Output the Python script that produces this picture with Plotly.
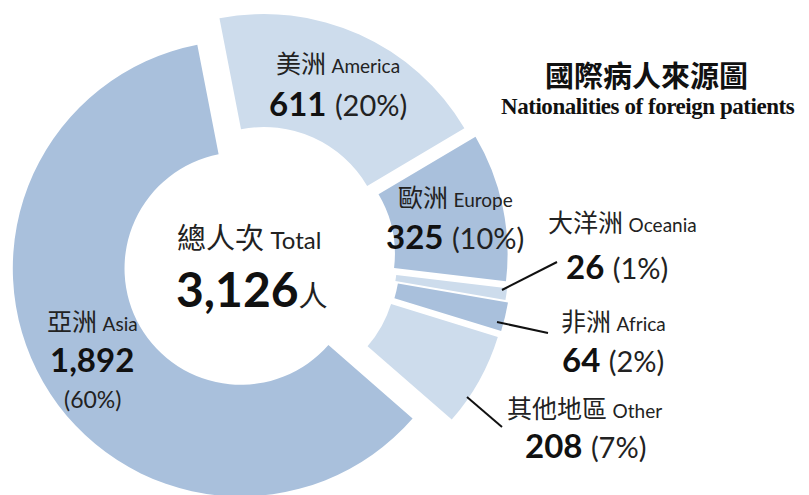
import math
import plotly.graph_objects as go

# ---- data ----
names_zh = ["美洲", "歐洲", "大洋洲", "非洲", "其他地區", "亞洲"]
names_en = ["America", "Europe", "Oceania", "Africa", "Other", "Asia"]
values = [611, 325, 26, 64, 208, 1892]
pct_labels = ["20%", "10%", "1%", "2%", "7%", "60%"]
colors = ["#cddcec", "#a9c0dc", "#cddcec", "#a9c0dc", "#cddcec", "#a9c0dc"]

# ---- geometry (pixels of the 809x495 picture) ----
pull_px = [12, 19, 22, 25, 24, 21]          # explosion of each slice
radius_px = [233, 230, 228, 228, 228, 228]  # outer radius of each slice
hole_frac = [0.515, 0.51, 0.51, 0.51, 0.51, 0.51]
W, H = 809, 495
OFF = 8            # page body margin in the browser
CX, CY = 259, 258  # donut centre (screen pixels)
START = -11        # degrees, clockwise from 12 o'clock

total = sum(values)

fig = go.Figure()
cum = 0.0
for i, v in enumerate(values):
    mid = math.radians(START + 360.0 * (cum + v / 2.0) / total)
    cum += v
    R = radius_px[i]
    cx = CX + pull_px[i] * math.sin(mid) - OFF
    cy = CY - pull_px[i] * math.cos(mid) - OFF
    cols = ["rgba(0,0,0,0)"] * len(values)
    cols[i] = colors[i]
    fig.add_trace(go.Pie(
        values=values, labels=names_en, sort=False, direction="clockwise",
        rotation=START, hole=hole_frac[i], textinfo="none", hoverinfo="label+value",
        marker=dict(colors=cols, line=dict(width=0)), showlegend=False,
        domain=dict(x=[max(0, (cx - R) / W), min(1, (cx + R) / W)],
                    y=[max(0, 1 - (cy + R) / H), min(1, 1 - (cy - R) / H)]),
    ))

ZH = "Noto Sans CJK TC"
LAT = "Lato"
TXT = "#222222"


def px(x, y):
    return (x - OFF) / W, 1 - (y - OFF) / H


def ann(x, y, text, size, family=None, color=TXT):
    ax, ay = px(x, y)
    fig.add_annotation(x=ax, y=ay, xref="paper", yref="paper", text=text,
                       showarrow=False, xanchor="center", yanchor="middle",
                       font=dict(family=family or f"{LAT}, {ZH}", color=color, size=size))


def name_line(i):
    return f'{names_zh[i]} <span style="font-family:{LAT};font-size:19px">{names_en[i]}</span>'


def value_line(i):
    return (f'<b style="color:#111">{values[i]:,}</b> '
            f'<span style="font-size:29px">({pct_labels[i]})</span>')


name_pos = [(338, 62), (455, 196), (622, 221), (613, 320), (584, 407), (92, 320)]
value_pos = [(338, 103), (455, 236), (617, 266), (613, 359), (585, 445)]

for i in range(len(values)):
    ann(*name_pos[i], name_line(i), 25, family=ZH)
    if i < 5:
        ann(*value_pos[i], value_line(i), 33)

# Asia: value and percentage on separate lines
ann(92, 359, f'<b style="color:#111">{values[5]:,}</b>', 33)
ann(92, 399, f'({pct_labels[5]})', 23)

# centre text
ann(249, 236, f'總人次 <span style="font-family:{LAT};font-size:24px">Total</span>', 29,
    family=ZH)
ann(252, 288, f'<b style="color:#111">{total:,}</b>'
              f'<span style="font-family:{ZH};font-size:29px">人</span>', 48)

# title
ann(646, 74, '<b>國際病人來源圖</b>', 29, family=ZH, color="#111")
ann(648, 107, '<b><span style="letter-spacing:-0.45px">Nationalities of foreign patients</span></b>',
    23, family="Liberation Serif", color="#111")

# leader lines
for (x0, y0, x1, y1) in [(502, 290, 557, 262), (497, 322, 548, 333), (467, 397, 502, 427)]:
    a0, b0 = px(x0, y0)
    a1, b1 = px(x1, y1)
    fig.add_shape(type="line", xref="paper", yref="paper", x0=a0, y0=b0, x1=a1, y1=b1,
                  line=dict(color="#111111", width=2))

fig.update_layout(width=W, height=H, margin=dict(l=0, r=0, t=0, b=0),
                  paper_bgcolor="white", plot_bgcolor="white", showlegend=False)

fig.write_html("out.html")
